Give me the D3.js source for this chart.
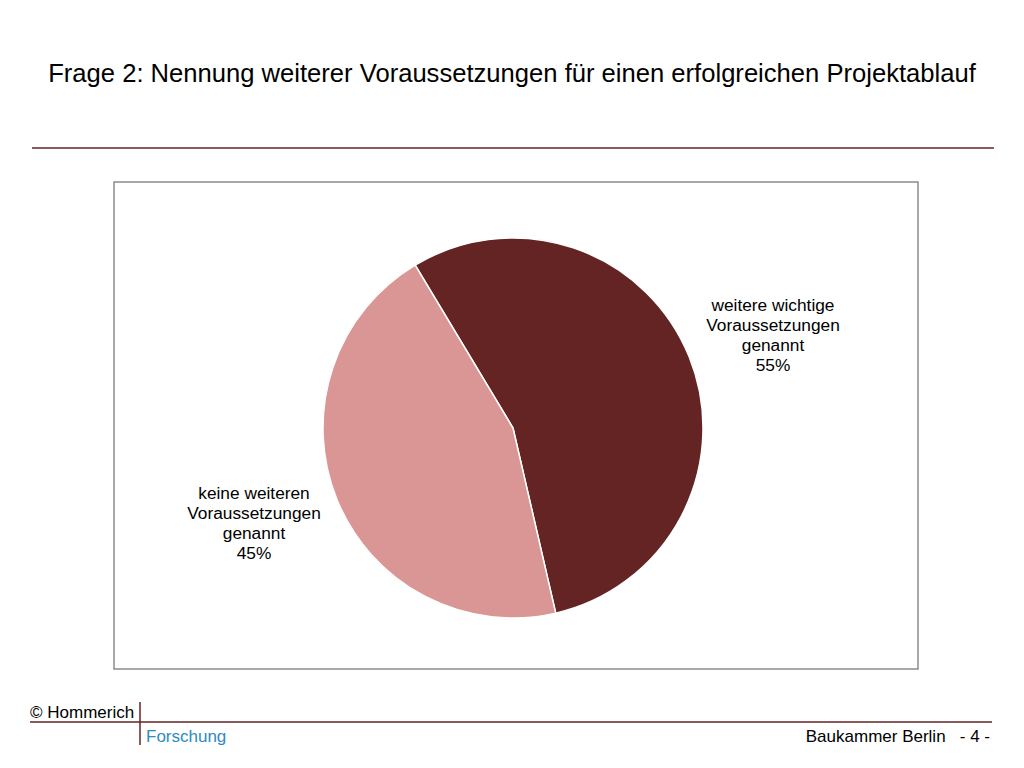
<!DOCTYPE html>
<html><head><meta charset="utf-8">
<script src="https://cdn.jsdelivr.net/npm/d3@7"></script>
<style>body{margin:0;background:#fff}svg{display:block;font-family:"Liberation Sans",Arial,sans-serif}</style>
</head><body><div id="viz"></div>
<script>
const labels = [["weitere wichtige", "Voraussetzungen", "genannt", "55%"], ["keine weiteren", "Voraussetzungen", "genannt", "45%"]];
const values = [55, 45];
const colors = ["#632423", "#d99694"];

const width = 1024, height = 768;
const svg = d3.select('#viz').append('svg').attr('width', width).attr('height', height);

svg.append('text').attr('x', 512).attr('y', 82).attr('text-anchor', 'middle')
    .attr('font-size', 25.6).attr('fill', '#000')
    .text('Frage 2: Nennung weiterer Voraussetzungen für einen erfolgreichen Projektablauf');
svg.append('line').attr('x1', 32).attr('x2', 994).attr('y1', 148).attr('y2', 148)
    .attr('stroke', '#632423').attr('stroke-width', 1.5);

// chart frame
svg.append('rect').attr('x', 114).attr('y', 182).attr('width', 804).attr('height', 487)
    .attr('fill', '#fff').attr('stroke', '#8c8c8c').attr('stroke-width', 1.5);

const cx = 513, cy = 428, r = 190;
const start = -31 * Math.PI / 180;
const pie = d3.pie().sort(null).startAngle(start).endAngle(start + 2 * Math.PI);
const arc = d3.arc().innerRadius(0).outerRadius(r);
const g = svg.append('g').attr('transform', `translate(${cx},${cy})`);
g.selectAll('path').data(pie(values)).join('path')
    .attr('d', arc).attr('fill', (d, i) => colors[i])
    .attr('stroke', '#fff').attr('stroke-width', 1.5);

const labelPos = [[773, 311], [254, 499]];
labels.forEach((lines, i) => {
    const t = svg.append('text').attr('text-anchor', 'middle').attr('font-size', 17.3).attr('fill', '#000');
    lines.forEach((s, j) => t.append('tspan').attr('x', labelPos[i][0]).attr('y', labelPos[i][1] + j * 20).text(s));
});

// footer
svg.append('line').attr('x1', 30).attr('x2', 992).attr('y1', 722).attr('y2', 722).attr('stroke', '#632423').attr('stroke-width', 1.5);
svg.append('line').attr('x1', 140).attr('x2', 140).attr('y1', 702).attr('y2', 745).attr('stroke', '#632423').attr('stroke-width', 1.5);
svg.append('text').attr('x', 30).attr('y', 718).attr('font-size', 17).text('© Hommerich');
svg.append('text').attr('x', 146).attr('y', 742).attr('font-size', 17).attr('fill', '#2e8bc0').text('Forschung');
svg.append('text').attr('x', 990).attr('y', 742).attr('text-anchor', 'end').attr('font-size', 17).attr('xml:space', 'preserve').text('Baukammer Berlin   - 4 -');
</script></body></html>
